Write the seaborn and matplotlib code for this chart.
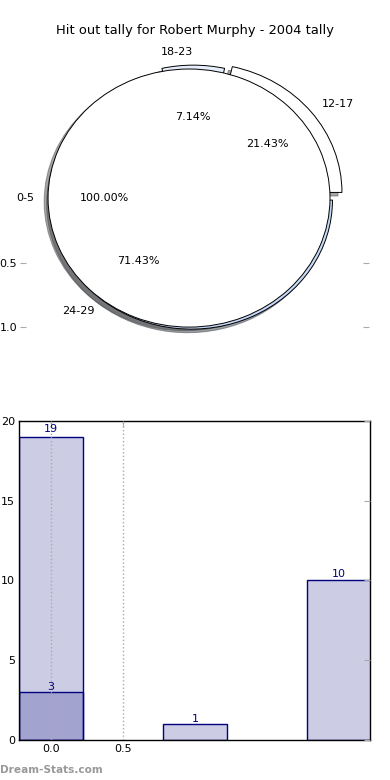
import matplotlib
matplotlib.use("Agg")
import matplotlib.pyplot as plt
import seaborn as sns

# Data
age_groups = ["12-17", "18-23", "24-29"]
age_counts = [3, 1, 10]
full_group = ["0-5"]
full_count = [19]

bar_pos = [0, 1, 2]
bar_values = [19, 1, 10]
overlay_pos = [0]
overlay_values = [3]

sns.set_style("white")
plt.rcParams["font.family"] = ["DejaVu Sans"]
plt.rcParams["text.color"] = "black"
plt.rcParams["xtick.labelcolor"] = "black"
plt.rcParams["ytick.labelcolor"] = "black"

fig = plt.figure(figsize=(3.9, 7.8), dpi=100)

# pie panel
ax_pie = fig.add_axes([0.0513, 0.5641, 0.895, 0.359])
ax_pie.pie(age_counts, labels=age_groups, autopct="%.2f%%",
           explode=[0.07, 0.03, 0.02], shadow=True,
           colors=["white", "#e6eefc", "#c6d9f9"],
           wedgeprops=dict(edgecolor="black", linewidth=0.7),
           textprops=dict(fontsize=8, color="black"))
ax_pie.pie(full_count, labels=full_group, autopct="%.2f%%",
           explode=[0.03], shadow=True, colors=["white"],
           wedgeprops=dict(edgecolor="black", linewidth=0.7),
           textprops=dict(fontsize=8, color="black"))
ax_pie.set_aspect("auto")
ax_pie.set_xlim(-1.229, 1.247)
ax_pie.set_ylim(-1.10, 1.07)
ax_pie.set_frame_on(False)
ax_pie.set_xticks([])
ax_pie.set_yticks([-0.5, -1.0], labels=["0.5", "1.0"])
ax_pie.tick_params(axis="y", direction="in", length=4, color="#aaaaaa",
                   left=True, right=True, labelsize=8, pad=2)

# bar panel
ax_bar = fig.add_axes([0.0487, 0.0513, 0.9, 0.409])
sns.barplot(x=bar_pos, y=bar_values, native_scale=True, width=0.45,
            saturation=1, errorbar=None, ax=ax_bar)
sns.barplot(x=overlay_pos, y=overlay_values, native_scale=True, width=0.45,
            saturation=1, errorbar=None, ax=ax_bar)
for p in ax_bar.patches:
    p.set_facecolor((0, 0, 0.5, 0.2))
    p.set_edgecolor("navy")
    p.set_linewidth(1)

for xs, vals in [(bar_pos, bar_values), (overlay_pos, overlay_values)]:
    for x, v in zip(xs, vals):
        ax_bar.text(x, v * 1.01, str(v), ha="center", va="bottom",
                    color="navy", fontsize=8)

ax_bar.set_xlim(-0.222, 2.215)
ax_bar.set_ylim(0, 20)
ax_bar.set_xticks([0, 0.5], labels=["0.0", "0.5"])
ax_bar.set_yticks([0, 5, 10, 15, 20])
ax_bar.set_axisbelow(False)
ax_bar.grid(axis="x", linestyle=":", color="#aaaaaa", linewidth=1)
ax_bar.grid(axis="y", visible=False)
ax_bar.tick_params(direction="in", length=4, color="#aaaaaa",
                   top=True, right=True, labelsize=8, pad=3)
for s in ax_bar.spines.values():
    s.set_color("black")
    s.set_linewidth(1)

fig.text(0.5, 0.9615, "Hit out tally for Robert Murphy - 2004 tally",
         ha="center", va="center", fontsize=9.4)
fig.text(0.0, 0.013, "Dream-Stats.com", ha="left", va="center",
         fontsize=7.6, fontweight="bold", color="#999999")

fig.savefig("out.png", dpi=100)
